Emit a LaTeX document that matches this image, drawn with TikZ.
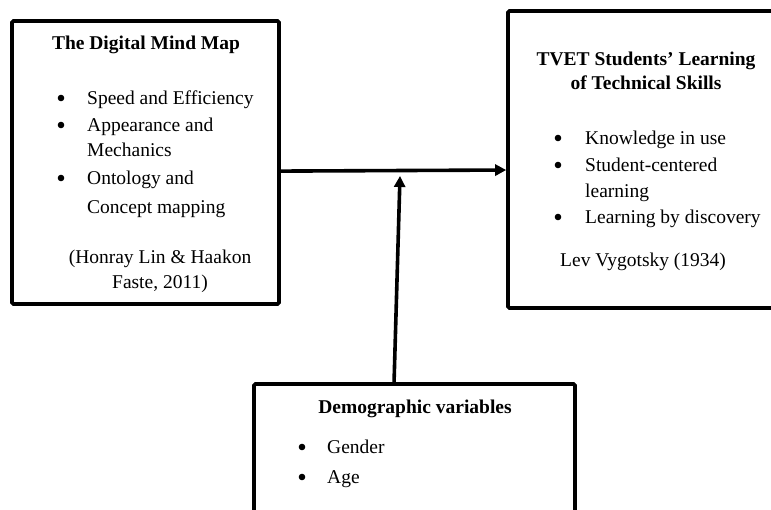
\documentclass[tikz,border=0pt]{standalone}
\usepackage{fontspec}
\setmainfont{Liberation Serif}
\usetikzlibrary{arrows.meta,calc}
\begin{document}
\begin{tikzpicture}[x=1pt,y=-1pt,
  box/.style={draw,line width=3.6pt,rounded corners=1.5pt,inner sep=0pt},
  txt/.style={anchor=base west,inner sep=0pt,font=\fontsize{19.5}{23}\selectfont},
  ctr/.style={anchor=base,inner sep=0pt,font=\fontsize{19.5}{23}\selectfont},
  ttl/.style={anchor=base,inner sep=0pt,font=\fontsize{19.5}{23}\selectfont\bfseries},
  blt/.style={circle,fill,inner sep=0pt,minimum size=6.6pt},
  arr/.style={line width=3.6pt,-{Triangle[length=11pt,width=11pt]}}]
\useasboundingbox (0,0) rectangle (771,509);
% boxes
\node[box,minimum width=267pt,minimum height=283pt] (lbox) at (145.5,162.5) {};
\node[box,minimum width=282pt,minimum height=297pt] (rbox) at (649,159.5) {};
\node[box,minimum width=321pt,minimum height=146pt] (bbox) at (414.5,457) {};
% left box text
\node[ttl] (lt) at (146,49) {The Digital Mind Map};
\node[blt] (lb1) at (61,98) {};
\node[txt] (l1) at (87,104) {Speed and Efficiency};
\node[blt] (lb2) at (61,125) {};
\node[txt] (l2) at (87,131) {Appearance and};
\node[txt] (l2b) at (87,156) {Mechanics};
\node[blt] (lb3) at (61,178) {};
\node[txt] (l3) at (87,184) {Ontology and};
\node[txt] (l3b) at (87,213) {Concept mapping};
\node[ctr] (lc1) at (160,263) {(Honray Lin \& Haakon};
\node[ctr] (lc2) at (160,288) {Faste, 2011)};
% right box text
\node[ttl] (rt1) at (646,65) {TVET Students’ Learning};
\node[ttl] (rt2) at (646,89) {of Technical Skills};
\node[blt] (rb1) at (558,138) {};
\node[txt] (r1) at (585,144) {Knowledge in use};
\node[blt] (rb2) at (558,165) {};
\node[txt] (r2) at (585,171) {Student-centered};
\node[txt] (r2b) at (585,197) {learning};
\node[blt] (rb3) at (558,217) {};
\node[txt] (r3) at (585,223) {Learning by discovery};
\node[txt] (rc) at (560,266) {Lev Vygotsky (1934)};
% bottom box text
\node[ttl] (bt) at (415,413) {Demographic variables};
\node[blt] (bb1) at (302,447) {};
\node[txt] (b1) at (327,453) {Gender};
\node[blt] (bb2) at (302,477) {};
\node[txt] (b2) at (327,483) {Age};
% connectors
\coordinate (hs) at ($(lbox.north east)!0.53!(lbox.south east)$);
\coordinate (he) at ($(rbox.north west)!0.535!(rbox.south west)$);
\draw[arr] (hs) -- (he);
\coordinate (vs) at ($(bbox.north west)!0.437!(bbox.north east)$);
\coordinate (vt) at (400,176);
\draw[arr] (vs) -- (vt);
\end{tikzpicture}
\end{document}
